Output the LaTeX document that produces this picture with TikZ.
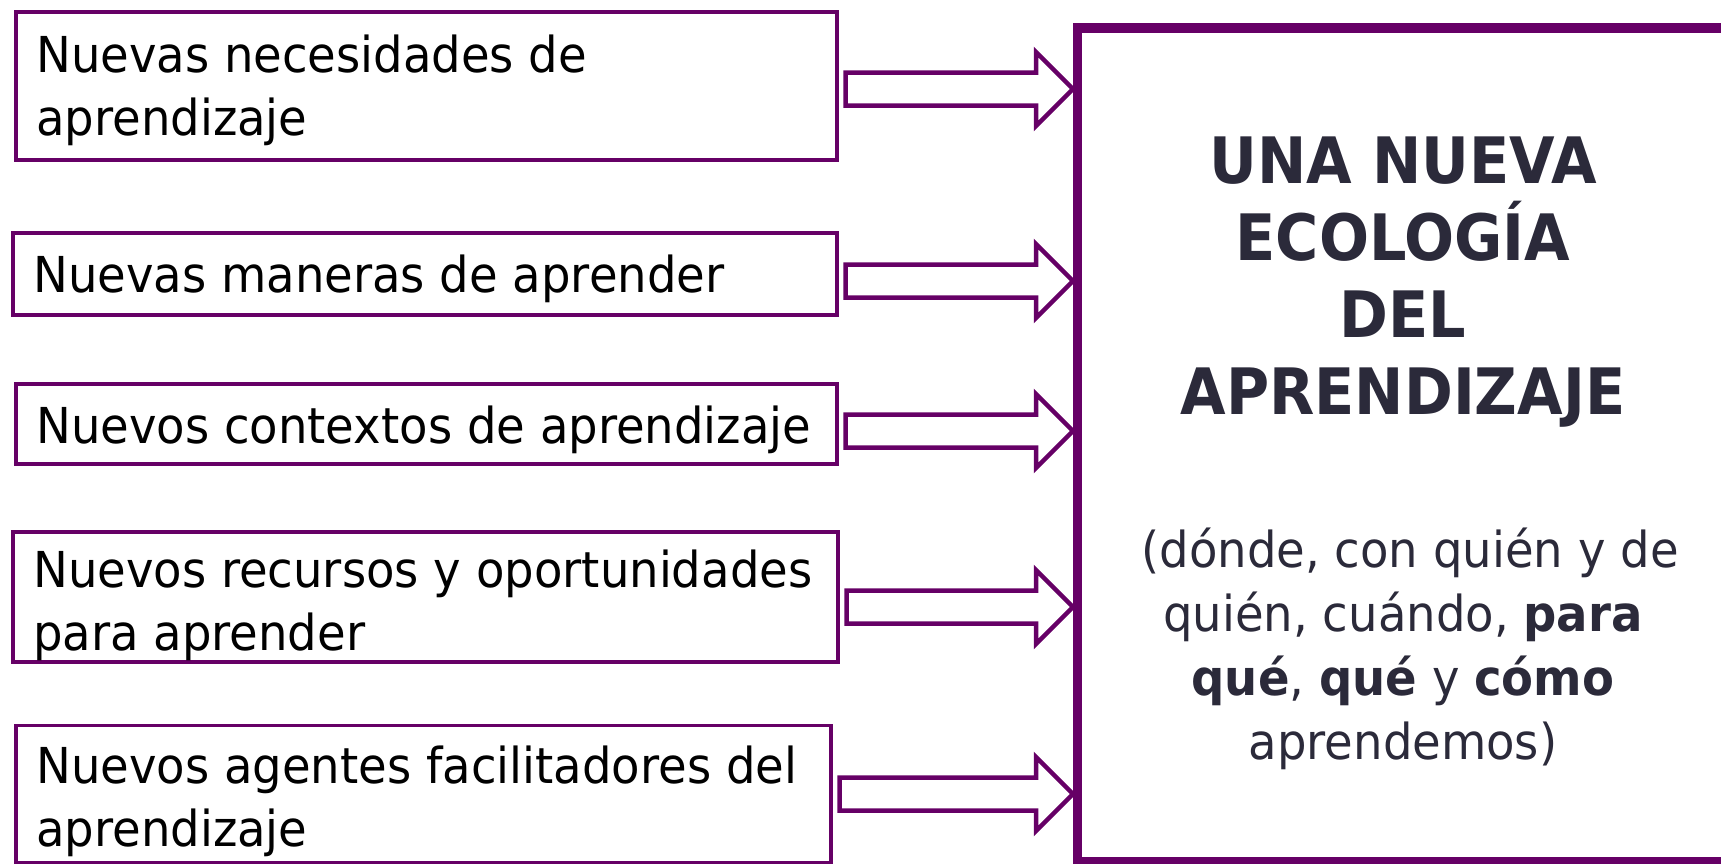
\documentclass[tikz,border=0pt]{standalone}
\usepackage{fontspec}
\setmainfont{DejaVu Sans}[FakeStretch=0.94]
\newfontfamily\headfont{DejaVu Sans}[FakeStretch=0.92]
\usetikzlibrary{calc}
\definecolor{plum}{RGB}{102,0,102}
\definecolor{ink}{RGB}{43,42,58}
\newcommand\blkarrow[2]{%
  \draw[blockarr] ($(#1)+(0,-16.5)$) -- ($(#2)+(-37,-16.5)$) -- ($(#2)+(-37,-37)$) -- (#2)
    -- ($(#2)+(-37,37)$) -- ($(#2)+(-37,16.5)$) -- ($(#1)+(0,16.5)$) -- cycle;}
\begin{document}
\begin{tikzpicture}[x=1pt,y=-1pt,
  lbox/.style={draw=plum, line width=3.8pt, inner sep=0pt, outer sep=0pt, anchor=north west},
  bigbox/.style={draw=plum, line width=9.5pt, fill=white, inner sep=0pt, outer sep=0pt, anchor=north west},
  ltext/.style={anchor=base west, inner sep=0pt, font=\fontsize{49.5}{60}\selectfont, text=black},
  htext/.style={anchor=base, inner sep=0pt, font=\headfont\fontsize{64}{77}\selectfont\bfseries, text=ink},
  ptext/.style={anchor=base, inner sep=0pt, font=\fontsize{49.5}{64}\selectfont, text=ink},
  blockarr/.style={draw=plum, line width=4.5pt, fill=white, line join=miter}
]
\useasboundingbox (0,0) rectangle (1721,863);
\clip (0,0) rectangle (1721,863);

% left boxes
\node[lbox, minimum width=821, minimum height=148] (b1) at (16,12) {};
\node[lbox, minimum width=824, minimum height=82] (b2) at (13,233) {};
\node[lbox, minimum width=821, minimum height=80] (b3) at (16,384) {};
\node[lbox, minimum width=825, minimum height=130] (b4) at (13,532) {};
\node[lbox, minimum width=815, minimum height=137] (b5) at (16,725.5) {};

% left texts
\node[ltext] (t1a) at (36,72) {Nuevas necesidades de};
\node[ltext] (t1b) at (36,135) {aprendizaje};
\node[ltext] (t2) at (33,292) {Nuevas maneras de aprender};
\node[ltext] (t3) at (36,443) {Nuevos contextos de aprendizaje};
\node[ltext] (t4a) at (33,587) {Nuevos recursos y oportunidades};
\node[ltext] (t4b) at (33,650) {para aprender};
\node[ltext] (t5a) at (36,783) {Nuevos agentes facilitadores del};
\node[ltext] (t5b) at (36,846) {aprendizaje};

% big box
\node[bigbox, minimum width=700, minimum height=834] (big) at (1077.5,28) {};

\node[htext] (h1) at (1403,183) {UNA NUEVA};
\node[htext] (h2) at (1403,260) {ECOLOGÍA};
\node[htext] (h3) at (1403,337) {DEL};
\node[htext] (h4) at (1403,414) {APRENDIZAJE};

\node[ptext] (p1) at (1410,567) {(dónde, con quién y de};
\node[ptext] (p2) at (1403,631) {quién, cuándo, \textbf{para}};
\node[ptext] (p3) at (1403,695) {\textbf{qué}, \textbf{qué} y \textbf{cómo}};
\node[ptext] (p4) at (1403,759) {aprendemos)};

% arrows
\coordinate (y1) at (0,89);
\coordinate (y2) at (0,281);
\coordinate (y3) at (0,431);
\coordinate (y4) at (0,607);
\coordinate (y5) at (0,794);
\foreach \i in {1,...,5}{
  \coordinate (s\i) at ($(b\i.east |- y\i)+(8.5,0)$);
  \coordinate (e\i) at ($(big.west |- y\i)+(-4.5,0)$);
  \blkarrow{s\i}{e\i}
}
\end{tikzpicture}
\end{document}
